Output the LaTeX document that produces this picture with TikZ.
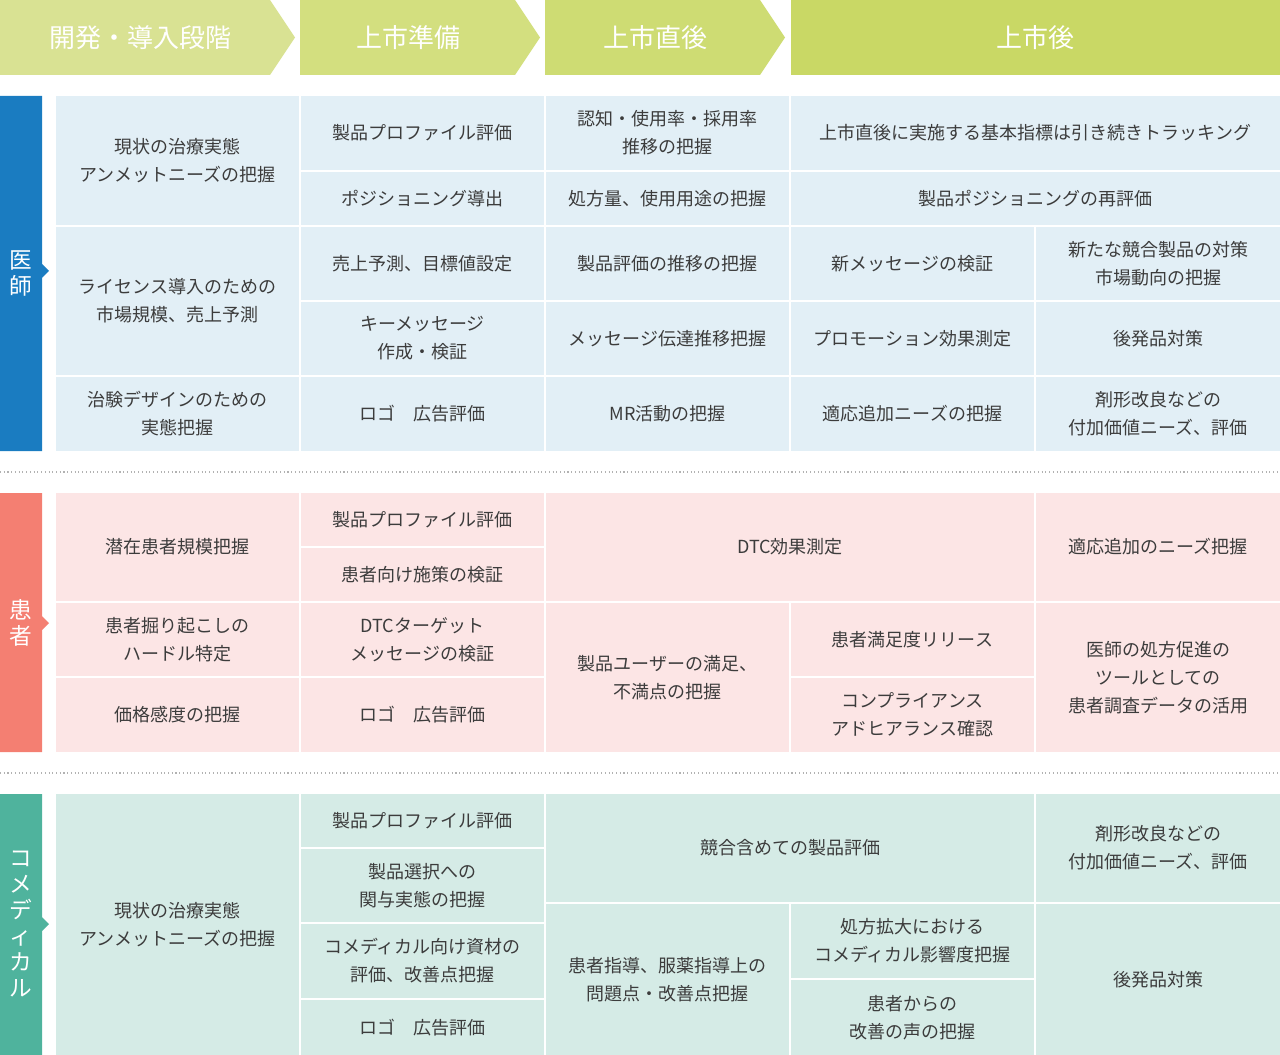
\documentclass[tikz,border=0pt]{standalone}
\usepackage{fontspec}
\newfontfamily\jp{Noto Sans CJK JP}
\definecolor{txt}{HTML}{3C3C3C}
\definecolor{bgA}{HTML}{E2EFF6}
\definecolor{bgB}{HTML}{FCE5E5}
\definecolor{bgC}{HTML}{D5EBE6}
\definecolor{hA}{HTML}{D9E293}
\definecolor{hB}{HTML}{D3DF7F}
\definecolor{hC}{HTML}{CEDC73}
\definecolor{hD}{HTML}{C9D865}
\definecolor{sA}{HTML}{1A7CC1}
\definecolor{sB}{HTML}{F47F72}
\definecolor{sC}{HTML}{4FB39D}
\tikzset{celltext/.style={font=\jp\fontsize{13.5}{21}\selectfont,text=txt,align=center,inner sep=0pt},
hdtext/.style={font=\jp\fontsize{19.5}{24}\selectfont,text=white,inner sep=0pt},
sidetext/.style={font=\jp\fontsize{17}{19.5}\selectfont,text=white,align=center,inner sep=0pt}}
\newcommand\cell[7]{\fill[#6] (#2,#3) rectangle (#4,#5);
\node[celltext] (#1) at ({(#2+#4)/2},{(#3+#5)/2}) {#7};}
\begin{document}
\begin{tikzpicture}[x=0.75pt,y=-0.75pt]
\useasboundingbox (0,0) rectangle (1280,1055);
% headers
\fill[hA] (0,0) -- (270,0) -- (295,37.5) -- (270,75) -- (0,75) -- cycle;
\fill[hB] (300,0) -- (515,0) -- (540,37.5) -- (515,75) -- (300,75) -- cycle;
\fill[hC] (545,0) -- (760,0) -- (785,37.5) -- (760,75) -- (545,75) -- cycle;
\fill[hD] (791,0) rectangle (1280,75);
\node[hdtext] (h1) at (140,38) {開発・導入段階};
\node[hdtext] (h2) at (408,38) {上市準備};
\node[hdtext] (h3) at (655,38) {上市直後};
\node[hdtext] (h4) at (1035,38) {上市後};
% side labels
\fill[sA] (0,96) -- (42,96) -- (42,264) -- (49,271) -- (42,278) -- (42,451) -- (0,451) -- cycle;
\node[sidetext] (s1) at (21,273) {医\\師};
\fill[sB] (0,493) -- (42,493) -- (42,616) -- (49,623) -- (42,630) -- (42,752) -- (0,752) -- cycle;
\node[sidetext] (s2) at (21,623) {患\\者};
\fill[sC] (0,794) -- (42,794) -- (42,917) -- (49,924) -- (42,931) -- (42,1055) -- (0,1055) -- cycle;
\node[sidetext] (s3) at (21,924) {コ\\メ\\デ\\{\raisebox{0pt}{ィ}}\\カ\\ル};
% separators
\draw[gray!60,dotted,line width=0.8pt] (0,472) -- (1280,472);
\draw[gray!60,dotted,line width=0.8pt] (0,773) -- (1280,773);
% doctor
\cell{a1}{56}{96}{299}{225}{bgA}{現状の治療実態\\アンメットニーズの把握}
\cell{a2}{301}{96}{544}{170}{bgA}{製品プロファイル評価}
\cell{a3}{301}{172}{544}{225}{bgA}{ポジショニング導出}
\cell{a4}{546}{96}{789}{170}{bgA}{認知・使用率・採用率\\推移の把握}
\cell{a5}{546}{172}{789}{225}{bgA}{処方量、使用用途の把握}
\cell{a6}{791}{96}{1280}{170}{bgA}{上市直後に実施する基本指標は引き続きトラッキング}
\cell{a7}{791}{172}{1280}{225}{bgA}{製品ポジショニングの再評価}
\cell{a8}{56}{227}{299}{375}{bgA}{ライセンス導入のための\\市場規模、売上予測}
\cell{a9}{301}{227}{544}{300}{bgA}{売上予測、目標値設定}
\cell{a10}{301}{302}{544}{375}{bgA}{キーメッセージ\\作成・検証}
\cell{a11}{546}{227}{789}{300}{bgA}{製品評価の推移の把握}
\cell{a12}{546}{302}{789}{375}{bgA}{メッセージ伝達推移把握}
\cell{a13}{791}{227}{1034}{300}{bgA}{新メッセージの検証}
\cell{a14}{791}{302}{1034}{375}{bgA}{プロモーション効果測定}
\cell{a15}{1036}{227}{1280}{300}{bgA}{新たな競合製品の対策\\市場動向の把握}
\cell{a16}{1036}{302}{1280}{375}{bgA}{後発品対策}
\cell{a17}{56}{377}{299}{451}{bgA}{治験デザインのための\\実態把握}
\cell{a18}{301}{377}{544}{451}{bgA}{ロゴ　広告評価}
\cell{a19}{546}{377}{789}{451}{bgA}{MR活動の把握}
\cell{a20}{791}{377}{1034}{451}{bgA}{適応追加ニーズの把握}
\cell{a21}{1036}{377}{1280}{451}{bgA}{剤形改良などの\\付加価値ニーズ、評価}
% patient
\cell{b1}{56}{493}{299}{601}{bgB}{潜在患者規模把握}
\cell{b2}{301}{493}{544}{546}{bgB}{製品プロファイル評価}
\cell{b3}{301}{548}{544}{601}{bgB}{患者向け施策の検証}
\cell{b4}{546}{493}{1034}{601}{bgB}{DTC効果測定}
\cell{b5}{1036}{493}{1280}{601}{bgB}{適応追加のニーズ把握}
\cell{b6}{56}{603}{299}{676}{bgB}{患者掘り起こしの\\ハードル特定}
\cell{b7}{301}{603}{544}{676}{bgB}{DTCターゲット\\メッセージの検証}
\cell{b8}{56}{678}{299}{752}{bgB}{価格感度の把握}
\cell{b9}{301}{678}{544}{752}{bgB}{ロゴ　広告評価}
\cell{b10}{546}{603}{789}{752}{bgB}{製品ユーザーの満足、\\不満点の把握}
\cell{b11}{791}{603}{1034}{676}{bgB}{患者満足度リリース}
\cell{b12}{791}{678}{1034}{752}{bgB}{コンプライアンス\\アドヒアランス確認}
\cell{b13}{1036}{603}{1280}{752}{bgB}{医師の処方促進の\\ツールとしての\\患者調査データの活用}
% comedical
\cell{c1}{56}{794}{299}{1055}{bgC}{現状の治療実態\\アンメットニーズの把握}
\cell{c2}{301}{794}{544}{847}{bgC}{製品プロファイル評価}
\cell{c3}{301}{849}{544}{922}{bgC}{製品選択への\\関与実態の把握}
\cell{c4}{301}{924}{544}{998}{bgC}{コメディカル向け資材の\\評価、改善点把握}
\cell{c5}{301}{1000}{544}{1055}{bgC}{ロゴ　広告評価}
\cell{c6}{546}{794}{1034}{902}{bgC}{競合含めての製品評価}
\cell{c7}{1036}{794}{1280}{902}{bgC}{剤形改良などの\\付加価値ニーズ、評価}
\cell{c8}{546}{904}{789}{1055}{bgC}{患者指導、服薬指導上の\\問題点・改善点把握}
\cell{c9}{791}{904}{1034}{978}{bgC}{処方拡大における\\コメディカル影響度把握}
\cell{c10}{791}{980}{1034}{1055}{bgC}{患者からの\\改善の声の把握}
\cell{c11}{1036}{904}{1280}{1055}{bgC}{後発品対策}
\end{tikzpicture}
\end{document}
